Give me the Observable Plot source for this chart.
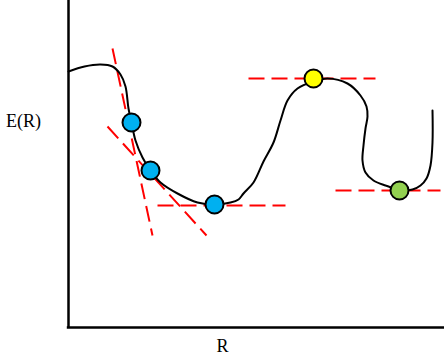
<!DOCTYPE html>
<html>
<head>
<meta charset="utf-8">
<script src="https://cdn.jsdelivr.net/npm/d3@7"></script>
<script src="https://cdn.jsdelivr.net/npm/@observablehq/plot@0.6"></script>
<style>
  html, body { margin: 0; padding: 0; background: #fff; }
  svg { overflow: visible; }
</style>
</head>
<body>
<div id="chart"></div>
<script>
// Curve E(R): R values and energies (arbitrary units)
const curveR = [0, 16, 32, 44, 52, 57, 60, 63, 67, 74, 82, 92, 109, 129, 146, 162, 170, 175, 185, 195, 205, 212, 219, 229, 245, 259, 279, 292, 298, 299, 297, 295, 294, 297, 305, 317, 331, 344, 352, 358, 362, 364, 364];
const curveE = [256, 261, 263, 261, 253, 241, 219, 205, 187, 170, 157, 145, 134, 125, 123, 125, 128, 134, 145, 166, 185, 207, 227, 239, 246, 249, 244, 232, 221, 211, 199, 182, 167, 155, 147, 142, 138, 138, 142, 149, 162, 185, 217];

// Tangent (dashed) lines: start and end of each segment
const tanR1 = [44, 39, 89, 180, 267];
const tanE1 = [279, 201, 122, 249, 137];
const tanR2 = [84, 138, 217, 307, 372];
const tanE2 = [92, 92, 122, 249, 137];

// Marked points
const ptR = [63, 82, 146, 245, 331];
const ptE = [205, 157, 123, 249, 137];
const ptColor = ["#00B0F0", "#00B0F0", "#00B0F0", "#FFFF00", "#92D050"];

// Axis labels
const xLabel = "R";
const yLabel = "E(R)";

const curve = curveR.map((r, i) => ({r, e: curveE[i]}));
const tangents = tanR1.map((r, i) => ({x1: r, y1: tanE1[i], x2: tanR2[i], y2: tanE2[i]}));
const points = ptR.map((r, i) => ({r, e: ptE[i], c: ptColor[i]}));

const font = "'Liberation Serif', 'Times New Roman', serif";

const chart = Plot.plot({
  width: 444,
  height: 358,
  marginLeft: 68,
  marginRight: 0,
  marginTop: 0,
  marginBottom: 31,
  style: {background: "#fff", fontFamily: font},
  x: {domain: [0, 376], axis: null},
  y: {domain: [0, 327], axis: null},
  marks: [
    Plot.ruleX([0], {y1: 0, y2: 327, stroke: "#000", strokeWidth: 2.5}),
    Plot.ruleY([0], {x1: -1.2, x2: 376, stroke: "#000", strokeWidth: 2.5}),
    Plot.link(tangents, {x1: "x1", y1: "y1", x2: "x2", y2: "y2", stroke: "#FF0000", strokeWidth: 2, strokeDasharray: "16,7"}),
    Plot.line(curve, {x: "r", y: "e", curve: "catmull-rom", stroke: "#000", strokeWidth: 2}),
    Plot.dot(points, {x: "r", y: "e", r: 9, fill: "c", stroke: "#000", strokeWidth: 2}),
    Plot.text([yLabel], {x: -45, y: 206, text: d => d, fontSize: 18, fontFamily: font, textAnchor: "middle", lineAnchor: "middle", fill: "#000"}),
    Plot.text([xLabel], {x: 154, y: -19, text: d => d, fontSize: 18, fontFamily: font, textAnchor: "middle", lineAnchor: "middle", fill: "#000"})
  ]
});
document.getElementById("chart").append(chart);
</script>
</body>
</html>
